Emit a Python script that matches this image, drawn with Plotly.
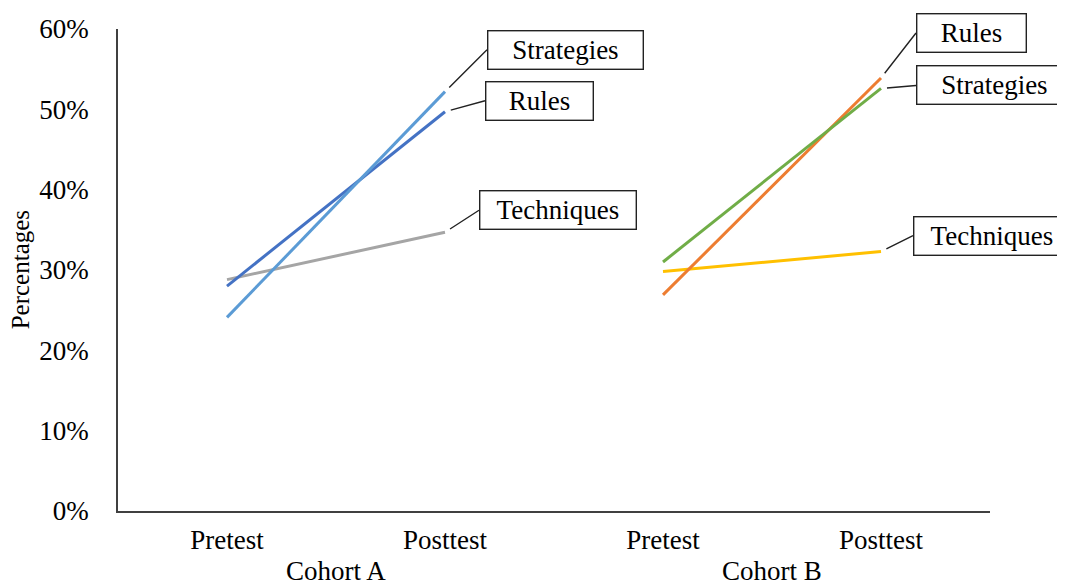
import plotly.graph_objects as go

# ---- data ----
cohorts = ["Cohort A", "Cohort B"]
phases = ["Pretest", "Posttest"]
series_names = ["Rules", "Strategies", "Techniques"]
cohort_a_rules = [0.280, 0.497]
cohort_a_strategies = [0.241, 0.522]
cohort_a_techniques = [0.288, 0.347]
cohort_b_rules = [0.269, 0.539]
cohort_b_strategies = [0.310, 0.526]
cohort_b_techniques = [0.298, 0.323]
y_ticks = [0, 0.1, 0.2, 0.3, 0.4, 0.5, 0.6]

FONT = "Liberation Serif"
TXT = "#000000"
colors_a = {"Rules": "#4472C4", "Strategies": "#5B9BD5", "Techniques": "#A5A5A5"}
colors_b = {"Rules": "#ED7D31", "Strategies": "#70AD47", "Techniques": "#FFC000"}

data_a = {"Rules": cohort_a_rules, "Strategies": cohort_a_strategies, "Techniques": cohort_a_techniques}
data_b = {"Rules": cohort_b_rules, "Strategies": cohort_b_strategies, "Techniques": cohort_b_techniques}

xa = [0, 1]
xb = [2, 3]

fig = go.Figure()
order = ["Techniques", "Rules", "Strategies"]
for name in order:
    fig.add_trace(go.Scatter(x=xa, y=data_a[name], mode="lines", name=name,
                             line=dict(color=colors_a[name], width=3), showlegend=False))
for name in order:
    fig.add_trace(go.Scatter(x=xb, y=data_b[name], mode="lines", name=name,
                             line=dict(color=colors_b[name], width=3), showlegend=False))

# label boxes: (cohort x, value, text, ax, ay, width)
label_specs = [
    (xa[1], cohort_a_strategies[1], "Strategies", 42, -42, 150),
    (xa[1], cohort_a_rules[1], "Rules", 40, -11, 102),
    (xa[1], cohort_a_techniques[1], "Techniques", 34, -22, 151),
    (xb[1], cohort_b_rules[1], "Rules", 35, -45, 104),
    (xb[1], cohort_b_strategies[1], "Strategies", 35, -3, 150),
    (xb[1], cohort_b_techniques[1], "Techniques", 32, -16, 151),
]
for x, y, txt, ax, ay, w in label_specs:
    fig.add_annotation(x=x, y=y, xref="x", yref="y", text=txt,
                       showarrow=True, arrowhead=0, arrowwidth=1.4, arrowcolor="#222222",
                       ax=ax, ay=ay, standoff=6, xanchor="left", yanchor="middle",
                       width=w, height=33, align="center",
                       bordercolor="#222222", borderwidth=1.4, borderpad=2,
                       bgcolor="white", font=dict(family=FONT, size=27, color=TXT))

for i, c in enumerate(cohorts):
    fig.add_annotation(x=(xa, xb)[i][0] + 0.5, y=-0.125, xref="x", yref="paper", text=c,
                       showarrow=False, yanchor="middle",
                       font=dict(family=FONT, size=27, color=TXT))

# y-axis title
fig.add_annotation(x=-0.112, y=0.5, xref="paper", yref="paper", text="Percentages",
                   textangle=-90, showarrow=False, xanchor="center", yanchor="middle",
                   font=dict(family=FONT, size=25, color=TXT))

# page body has an 8px margin: figure is sized/positioned to compensate
fig.update_layout(
    width=1057, height=577,
    margin=dict(l=110, r=75, t=21, b=74),
    paper_bgcolor="white", plot_bgcolor="white",
    font=dict(family=FONT, color=TXT),
    xaxis=dict(range=[-0.5, 3.5], tickmode="array", tickvals=xa + xb,
               ticktext=phases + phases, showgrid=False, zeroline=False,
               showline=True, linecolor="#404040", linewidth=1.5,
               tickfont=dict(family=FONT, size=27, color=TXT),
               ticks="", ticklabelstandoff=4, automargin=False),
    yaxis=dict(range=[0, 0.6], tickmode="array", tickvals=y_ticks, tickformat=".0%",
               showgrid=False, zeroline=False,
               showline=True, linecolor="#404040", linewidth=1.5,
               tickfont=dict(family=FONT, size=27, color=TXT),
               ticks="", ticklabelstandoff=22, automargin=False),
)

fig.write_html("out.html")
